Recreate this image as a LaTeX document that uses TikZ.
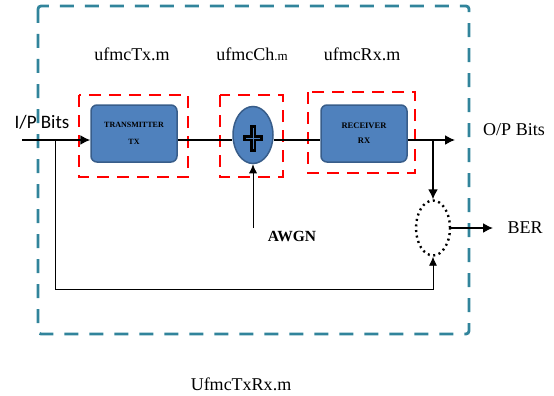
\documentclass[tikz,border=0pt]{standalone}
\usepackage{fontspec}
\setmainfont{Liberation Serif}
\newfontfamily\calibri{Carlito}
\usepackage{tikz}
\usetikzlibrary{shapes,arrows.meta}
\usetikzlibrary{positioning}
\usetikzlibrary{backgrounds}
\usepackage{xcolor}
\definecolor{tealdash}{RGB}{49,132,155}
\definecolor{boxblue}{RGB}{79,129,189}
\definecolor{boxedge}{RGB}{56,93,138}

\begin{document}
\begin{tikzpicture}[x=1pt,y=-1pt,every node/.style={inner sep=0pt},
  blk/.style={draw=boxedge,line width=1.5pt,fill=boxblue,rounded corners=6pt,
    minimum width=86pt,minimum height=57pt,align=center},
  reddash/.style={draw=red,line width=2.6pt,dash pattern=on 12pt off 8pt},
  sig/.style={line width=1.6pt,-{Latex[length=10pt,width=10pt]}},
  fbk/.style={line width=0.8pt,-{Latex[length=9pt,width=8pt]}},
  lbl/.style={font=\fontsize{18}{20}\selectfont}]

  \useasboundingbox (0,0) rectangle (554,396);

  % outer frame
  \draw[tealdash,line width=2.8pt,dash pattern=on 14pt off 11pt,rounded corners=3pt]
    (38,6) rectangle (469,334);

  % blocks
  \node[blk,font=\fontsize{8}{17}\selectfont\bfseries] (tx) at (134,133.5) {TRANSMITTER\\TX};
  \node[blk,font=\fontsize{8.5}{15}\selectfont\bfseries] (rx) at (364,133.5) {RECEIVER\\RX};
  \node[ellipse,draw=boxedge,line width=1.5pt,fill=boxblue,minimum width=40pt,
    minimum height=57pt] (ch) at (253,135) {};
  \draw[line width=6pt] ([yshift=-3pt]ch.center) ++(-10,0) -- ++(20,0);
  \draw[line width=6pt] ([yshift=-3pt]ch.center) ++(0,-13) -- ++(0,27);
  \draw[boxblue,line width=0.6pt] ([yshift=-3pt]ch.center) ++(-7,0) -- ++(14,0);
  \draw[boxblue,line width=0.6pt] ([yshift=-3pt]ch.center) ++(0,-10) -- ++(0,21);
  \node[ellipse,draw,line width=2.4pt,dash pattern=on 2pt off 3.6pt,
    minimum width=34pt,minimum height=55pt] (ber) at (433,228) {};

  % file frames
  \draw[reddash] (79,95) rectangle (188,177);
  \draw[reddash] (220,95) rectangle (283,177);
  \draw[reddash] (308,92) rectangle (415,173);

  % labels
  \node[lbl] (txfile) at (132,54) {ufmcTx.m};
  \node[lbl] (chfile) at (252,54) {ufmcCh{\fontsize{13}{15}\selectfont.m}};
  \node[lbl] (rxfile) at (362,54) {ufmcRx.m};
  \node[lbl] (mainfile) at (241,384) {UfmcTxRx.m};
  \node[font=\calibri\fontsize{19}{21}\selectfont] (ip) at (42,122) {I/P Bits};
  \node[lbl] (op) at (514,130) {O/P Bits};
  \node[lbl] (bertxt) at (525,228) {BER};
  \node[font=\fontsize{15.5}{17}\selectfont\bfseries] (awgn) at (292,236) {AWGN};

  % points
  \coordinate (in) at (22,140);
  \coordinate (sp1) at (55,140);
  \coordinate (sp2) at (433,140);
  \coordinate (out) at (455,140);
  \coordinate (fb) at (55,289);
  \coordinate (noise) at (253,228);
  \coordinate (berend) at (493,228);

  % connectors
  \draw[sig] (in) -- (in -| tx.west);
  \draw[line width=1.6pt] (in -| tx.east) -- (in -| ch.west);
  \draw[line width=1.6pt] (in -| ch.east) -- (in -| rx.west);
  \draw[sig] (in -| rx.east) -- (out);
  \draw[sig] (sp2) -- (ber.north);
  \draw[sig] (ber.east) -- (berend);
  \draw[fbk] (sp1) -- (fb) -| (ber.south);
  \draw[fbk] (noise) -- (ch.south);

\end{tikzpicture}
\end{document}
